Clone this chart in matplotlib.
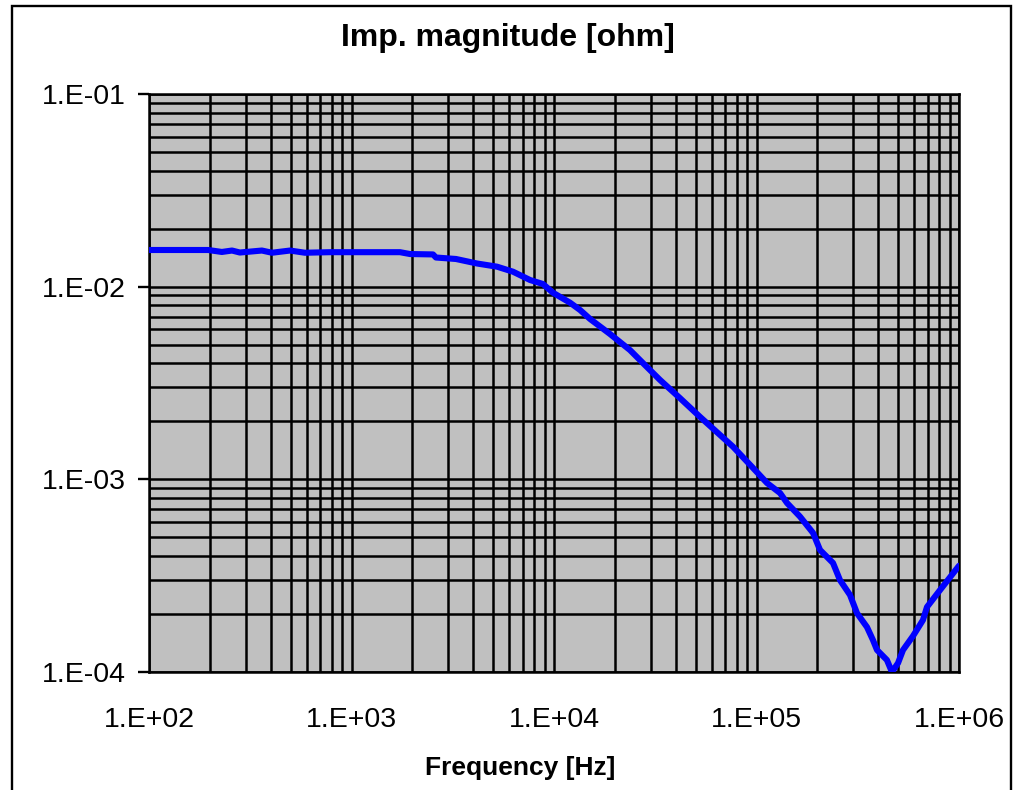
import matplotlib
matplotlib.use("Agg")
import matplotlib.pyplot as plt
from matplotlib.ticker import LogLocator, FixedLocator, NullFormatter
from matplotlib.patches import Rectangle

# Data
freq_hz = [100, 196, 229, 257, 281, 361, 405, 497, 589, 783, 1736, 1945, 2526, 2612,
           3281, 4168, 5231, 6273, 7612, 8824, 9886, 11995, 13440, 15060, 18900,
           23710, 28120, 33380, 41880, 52600, 66040, 76560, 96160, 112700, 130700,
           141600, 164100, 190200, 205900, 238700, 258300, 289600, 313500, 351300,
           375800, 393600, 440600, 466600, 500000, 529000, 592700, 663700, 695000,
           805400, 1000000]
imp_ohm = [0.01550, 0.01550, 0.01514, 0.01540, 0.01504, 0.01540, 0.01500, 0.01540,
           0.01500, 0.01510, 0.01510, 0.01477, 0.01470, 0.01417, 0.01392, 0.01319,
           0.01270, 0.01196, 0.01083, 0.01032, 0.00930, 0.00826, 0.00757, 0.00680,
           0.00568, 0.00469, 0.00392, 0.00328, 0.00264, 0.00211, 0.00170, 0.001477,
           0.001145, 0.000957, 0.000849, 0.000753, 0.000640, 0.000527, 0.000430,
           0.000368, 0.000300, 0.000251, 0.000202, 0.000171, 0.0001466, 0.0001301,
           0.0001154, 0.0001000, 0.0001113, 0.0001300, 0.0001537, 0.000186,
           0.0002175, 0.000266, 0.000356]

x_ticks = [1e2, 1e3, 1e4, 1e5, 1e6]
x_labels = ["1.E+02", "1.E+03", "1.E+04", "1.E+05", "1.E+06"]
y_ticks = [1e-4, 1e-3, 1e-2, 1e-1]
y_labels = ["1.E-04", "1.E-03", "1.E-02", "1.E-01"]

title = "Imp. magnitude [ohm]"
xlabel = "Frequency [Hz]"

plt.rcParams['font.family'] = ['Liberation Sans', 'DejaVu Sans']

W, H = 1017, 790
fig = plt.figure(figsize=(W / 100, H / 100), dpi=100)
fig.patch.set_facecolor("white")

# chart-area border
fig.patches.append(Rectangle((12 / W, -0.05), (1011 - 12) / W, 1.05 - 6 / H,
                             transform=fig.transFigure, fill=False,
                             edgecolor="black", linewidth=1.7))

ax = fig.add_axes([149 / W, 1 - 672 / H, 810 / W, 578 / H])
ax.set_facecolor("#C0C0C0")
ax.set_xscale("log")
ax.set_yscale("log")
ax.set_xlim(1e2, 1e6)
ax.set_ylim(1e-4, 1e-1)

ax.plot(freq_hz, imp_ohm, color="#0000FF", linewidth=4.4, solid_joinstyle="round",
        solid_capstyle="round", zorder=3, clip_on=True)

ax.xaxis.set_major_locator(FixedLocator(x_ticks))
ax.yaxis.set_major_locator(FixedLocator(y_ticks))
ax.set_xticklabels(x_labels)
ax.set_yticklabels(y_labels)
ax.xaxis.set_minor_locator(LogLocator(base=10, subs=range(2, 10), numticks=20))
ax.yaxis.set_minor_locator(LogLocator(base=10, subs=range(2, 10), numticks=20))
ax.xaxis.set_minor_formatter(NullFormatter())
ax.yaxis.set_minor_formatter(NullFormatter())

ax.grid(True, which="both", color="black", linewidth=1.8)
ax.set_axisbelow(True)

ax.tick_params(axis="x", which="both", length=0, pad=25, labelsize=20.5)
ax.tick_params(axis="y", which="major", length=8, width=1.7, pad=9, labelsize=20.5,
               direction="out", color="black")
ax.tick_params(axis="y", which="minor", length=0)

for s in ax.spines.values():
    s.set_color("black")
    s.set_linewidth(1.8)

fig.text(508 / W, 1 - 38 / H, title, ha="center", va="center",
         fontsize=23, fontweight="bold")
fig.text(520 / W, 1 - 768 / H, xlabel, ha="center", va="center",
         fontsize=19, fontweight="bold")

fig.savefig("out.png", dpi=100)
